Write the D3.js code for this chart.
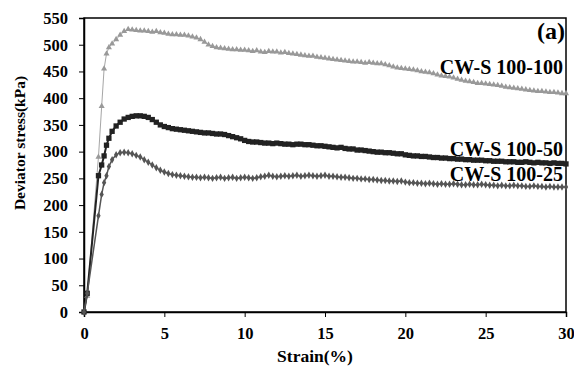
<!DOCTYPE html>
<html><head><meta charset="utf-8">
<script src="https://cdn.jsdelivr.net/npm/d3@7"></script>
<style>body{margin:0;background:#fff}svg{display:block}text{font-family:"Liberation Serif","Times New Roman",serif;font-weight:bold}</style>
</head><body>
<svg id="c" width="574" height="371"></svg>
<script>
const strain = [0,0.2,0.9,1.1,1.25,1.4,1.55,1.75,
2.0,2.25,2.5,2.75,3.0,3.25,3.5,3.75,4.0,4.25,4.5,4.75,5.0,5.25,5.5,5.75,6.0,6.25,6.5,6.75,7.0,7.25,7.5,7.75,8.0,8.25,8.5,8.75,9.0,9.25,9.5,9.75,
10.0,10.25,10.5,10.75,11.0,11.25,11.5,11.75,12.0,12.25,12.5,12.75,13.0,13.25,13.5,13.75,14.0,14.25,14.5,14.75,15.0,15.25,15.5,15.75,16.0,16.25,16.5,16.75,17.0,17.25,17.5,17.75,18.0,18.25,18.5,18.75,19.0,19.25,19.5,19.75,
20.0,20.25,20.5,20.75,21.0,21.25,21.5,21.75,22.0,22.25,22.5,22.75,23.0,23.25,23.5,23.75,24.0,24.25,24.5,24.75,25.0,25.25,25.5,25.75,26.0,26.25,26.5,26.75,27.0,27.25,27.5,27.75,28.0,28.25,28.5,28.75,29.0,29.25,29.5,29.75,30.0];

const cws100_100 = [0,30,290,385,455,483,495,502,
510,518,525,529,528,527,526,526,525,524,525,523,522,520,519,519,518,518,517,515,513,510,505,500,497,495,494,493,492,491,491,490,
490,489,488,489,487,486,488,487,487,485,486,484,483,482,481,480,479,479,477,476,475,474,473,472,471,470,469,468,468,467,466,467,466,465,465,463,461,459,457,456,
455,454,453,452,450,449,448,446,444,442,441,440,438,436,434,432,431,430,428,428,427,426,425,424,423,421,420,419,418,417,416,415,414,413,413,412,411,411,410,409,409];

const cws100_50 = [0,35,255,275,292,312,325,338,
348,355,361,364,366,367,367,366,364,360,355,350,347,345,343,342,341,340,339,338,337,336,335,335,334,333,333,332,330,328,326,324,
321,319,318,318,317,316,316,315,316,315,314,314,313,314,314,313,313,312,311,311,310,309,308,307,308,306,305,305,303,303,302,301,300,299,299,298,298,297,296,296,
294,293,292,292,291,291,290,289,289,288,288,287,287,286,286,285,285,284,284,284,283,283,282,282,282,281,281,281,280,280,281,280,279,280,279,279,278,279,278,278,277];

const cws100_25 = [0,35,180,220,242,255,272,285,
294,298,299,298,296,293,290,285,280,275,270,265,262,259,257,256,255,254,253,252,252,251,252,251,250,251,252,250,251,252,250,251,
252,251,250,251,253,254,256,254,253,254,255,254,255,256,254,255,256,255,254,255,256,254,254,253,252,252,251,250,250,249,249,248,248,247,246,246,245,245,244,245,
243,242,242,241,241,240,241,240,239,240,239,239,240,239,238,238,239,238,238,239,238,237,237,236,237,236,236,237,236,236,235,235,236,235,235,234,235,234,234,234,234];

const seriesNames = ["CW-S 100-100","CW-S 100-50","CW-S 100-25"];
const xTicks = [0,5,10,15,20,25,30];
const yTicks = [0,50,100,150,200,250,300,350,400,450,500,550];

const svg = d3.select("#c");
const L=84, R=566, T=18, B=312;
const x = d3.scaleLinear().domain([0,30]).range([L,R]);
const y = d3.scaleLinear().domain([0,550]).range([B,T]);

// frame
svg.append("rect").attr("x",L).attr("y",T).attr("width",R-L).attr("height",B-T)
  .attr("fill","none").attr("stroke","#000").attr("stroke-width",1.5);

const xa = svg.append("g").attr("transform",`translate(0,${B})`)
  .call(d3.axisBottom(x).tickValues(xTicks).tickSize(5).tickPadding(10));
const ya = svg.append("g").attr("transform",`translate(${L},0)`)
  .call(d3.axisLeft(y).tickValues(yTicks).tickSize(5).tickPadding(11));
[xa,ya].forEach(a=>{
  a.select(".domain").attr("stroke","#000").attr("stroke-width",1.5);
  a.selectAll(".tick line").attr("stroke","#000");
  a.selectAll("text").attr("font-size",16.5).attr("fill","#000")
   .attr("font-family","'Liberation Serif',serif").attr("font-weight","bold");
});

svg.append("text").attr("x",(L+R)/2 - 10).attr("y",362).attr("text-anchor","middle")
  .attr("font-size",17.5).text("Strain(%)");
svg.append("text").attr("transform",`translate(25,143) rotate(-90)`)
  .attr("text-anchor","middle").attr("font-size",15.5).text("Deviator stress(kPa)");

const series = [
  {name:seriesNames[0], vals:cws100_100, color:"#a6a6a6", lw:1, sym:d3.symbolTriangle, size:16, mcol:"#999"},
  {name:seriesNames[1], vals:cws100_50, color:"#222", lw:2, sym:d3.symbolSquare, size:28, mcol:"#222"},
  {name:seriesNames[2], vals:cws100_25, color:"#555", lw:1.5, sym:d3.symbolDiamond, size:16, mcol:"#555"}
];

const line = d3.line().x((d,i)=>x(strain[i])).y(d=>y(d));
series.forEach(s=>{
  const g = svg.append("g");
  g.append("path").datum(s.vals).attr("d",line).attr("fill","none")
    .attr("stroke",s.color).attr("stroke-width",s.lw);
  g.selectAll("path.m").data(s.vals).join("path").attr("class","m")
    .attr("transform",(d,i)=>`translate(${x(strain[i])},${y(d)})`)
    .attr("d",d3.symbol().type(s.sym).size(s.size)).attr("fill",s.mcol);
});

// labels
const lab = [[seriesNames[0],74],[seriesNames[1],156],[seriesNames[2],181]];
lab.forEach(([t,yy])=>svg.append("text").attr("x",563).attr("y",yy)
  .attr("text-anchor","end").attr("font-size",20).text(t));
svg.append("text").attr("x",565).attr("y",39).attr("text-anchor","end")
  .attr("font-size",24).text("(a)");
</script>
</body></html>
